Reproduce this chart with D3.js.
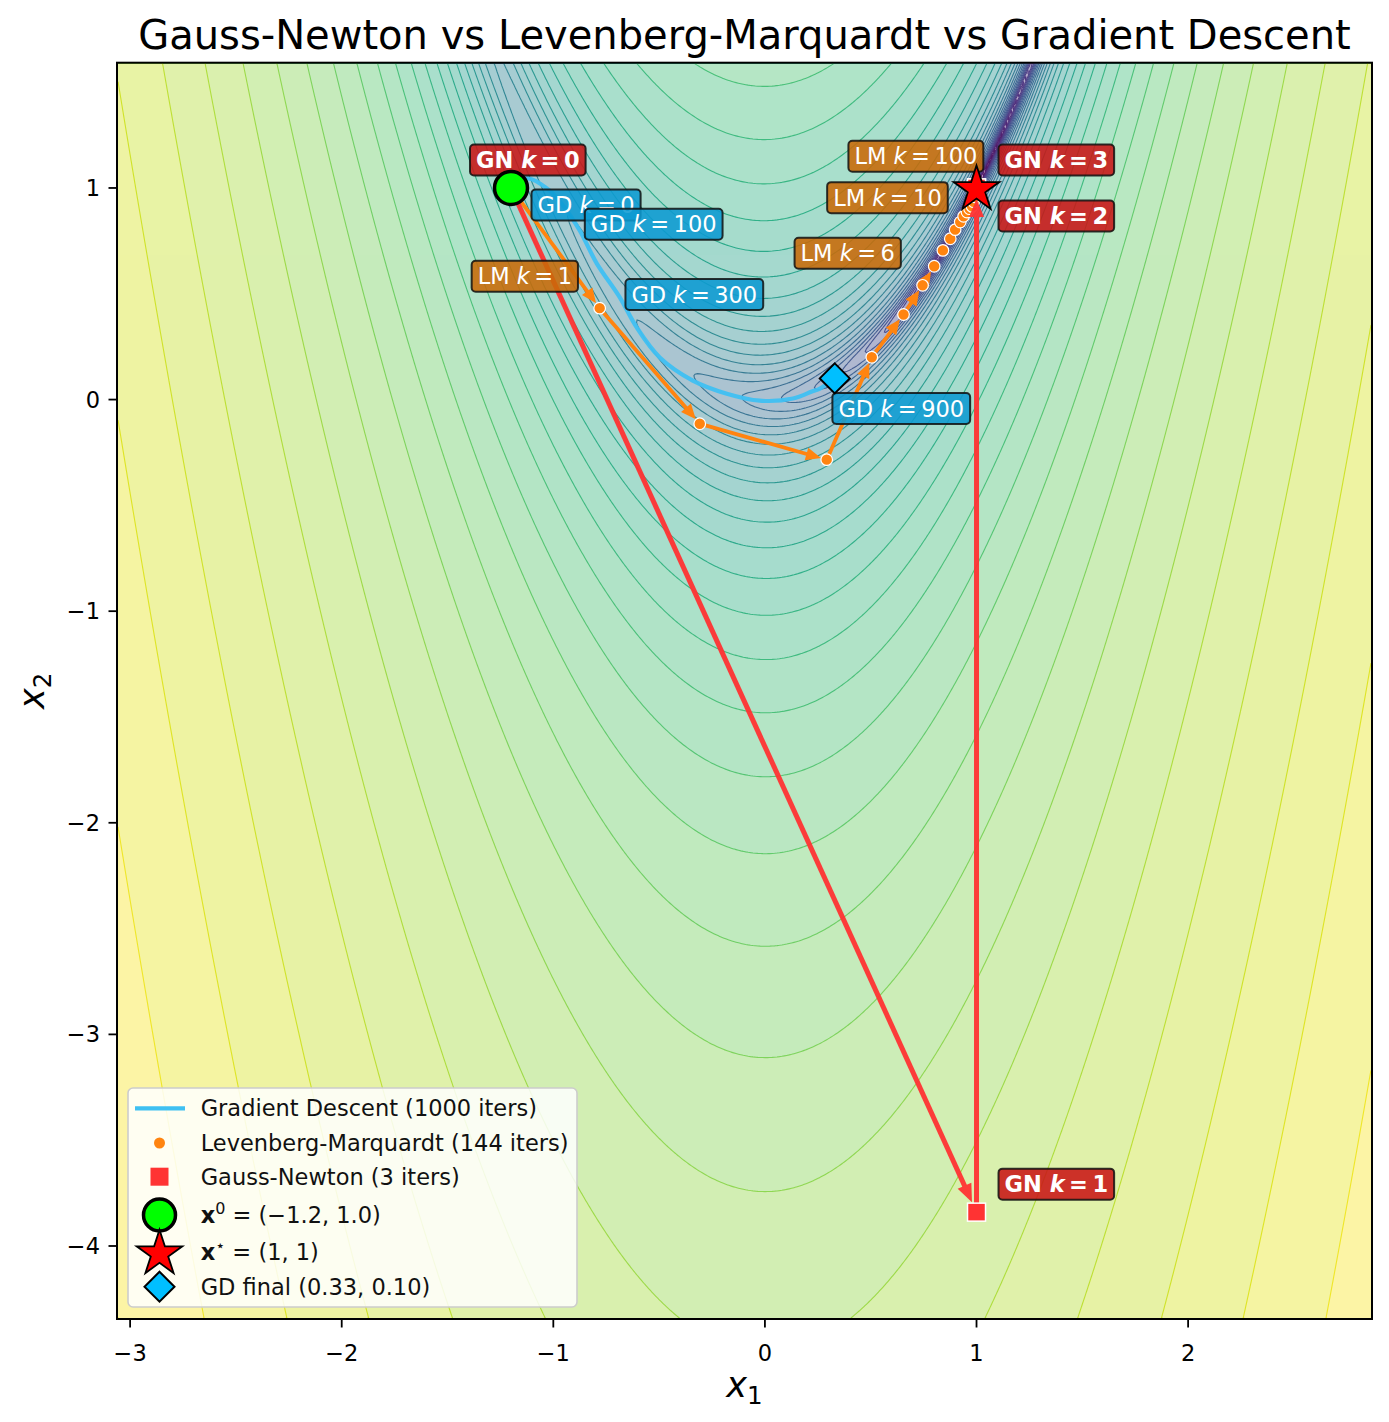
<!DOCTYPE html>
<html lang="en">
<head>
<meta charset="utf-8">
<script src="https://d3js.org/d3.v7.min.js"></script>
<style>
  body { margin: 0; background: #fff; }
  svg { font-family: "DejaVu Sans", sans-serif; }
</style>
</head>
<body>
<script>
// ---- data ----
const startPoint = [-1.2, 1.0];
const optimum = [1.0, 1.0];
const gdFinal = [0.33, 0.10];

// gradient descent trajectory (sampled along the drawn curve)
const gdX = [-1.2, -1.125, -1.02, -0.948, -0.876, -0.795, -0.686, -0.606, -0.497, -0.341, -0.180, -0.024, 0.133, 0.222, 0.260, 0.33];
const gdY = [1.0, 1.046, 0.99, 0.909, 0.80, 0.644, 0.483, 0.341, 0.199, 0.090, 0.028, -0.005, 0.005, 0.038, 0.052, 0.10];
const gdLabelK = [0, 100, 300, 900];
const gdLabelX = [-1.2, -0.948, -0.756, 0.222];
const gdLabelY = [1.0, 0.909, 0.577, 0.038];

// Levenberg-Marquardt iterates
const lmK = [0, 1, 2, 3, 4, 5, 6, 7, 8, 9, 10, 11, 12, 13, 14, 15, 16, 18, 22, 100, 144];
const lmX = [-1.2, -0.781, -0.308, 0.292, 0.505, 0.655, 0.745, 0.800, 0.841, 0.876, 0.899, 0.923, 0.939, 0.955, 0.967, 0.979, 0.986, 0.992, 0.997, 0.9995, 1.0];
const lmY = [1.0, 0.432, -0.114, -0.284, 0.200, 0.402, 0.540, 0.630, 0.705, 0.760, 0.803, 0.839, 0.866, 0.886, 0.902, 0.913, 0.935, 0.958, 0.98, 0.999, 1.0];
const lmLabelK = [1, 6, 10, 100];

// Gauss-Newton iterates
const gnK = [0, 1, 2, 3];
const gnX = [-1.2, 1.0, 1.0, 1.0];
const gnY = [1.0, -3.84, 1.0, 1.0];

const xTicks = [-3, -2, -1, 0, 1, 2];
const yTicks = [-4, -3, -2, -1, 0, 1];

const titleText = "Gauss-Newton vs Levenberg-Marquardt vs Gradient Descent";
const legendNames = ["Gradient Descent (1000 iters)", "Levenberg-Marquardt (144 iters)", "Gauss-Newton (3 iters)"];

// ---- layout ----
const W = 1389, H = 1422;
const plot = { left: 117, right: 1372, top: 62.7, bottom: 1319 };
const x = d3.scaleLinear().domain([-3.062, 2.869]).range([plot.left, plot.right]);
const y = d3.scaleLinear().domain([-4.345, 1.592]).range([plot.bottom, plot.top]);

const gdColor = "#3fc0f2", lmColor = "#ff8410", gnColor = "#ff3333";
const fs = 22.5;

const svg = d3.select("body").append("svg").attr("width", W).attr("height", H);
svg.append("defs").append("clipPath").attr("id", "clip")
  .append("rect").attr("x", plot.left).attr("y", plot.top)
  .attr("width", plot.right - plot.left).attr("height", plot.bottom - plot.top);

const area = svg.append("g").attr("clip-path", "url(#clip)");

// ---- Rosenbrock contours ----
const rosen = (a, b) => (1 - a) ** 2 + 100 * (b - a * a) ** 2;
const nx = 520, ny = 520;
const grid = new Float64Array(nx * ny);
for (let j = 0; j < ny; j++) {
  const yv = y.invert(plot.top + (j + 0.5) * (plot.bottom - plot.top) / ny);
  for (let i = 0; i < nx; i++) {
    const xv = x.invert(plot.left + (i + 0.5) * (plot.right - plot.left) / nx);
    grid[j * nx + i] = Math.log10(Math.max(rosen(xv, yv), 1e-6));
  }
}
const logMax = d3.max(grid);
const nLevels = 40;
const levels = d3.range(nLevels).map(i => -2 + i * (logMax + 2) / (nLevels - 1));
const contours = d3.contours().size([nx, ny]).thresholds(levels)(grid);

const toPlot = d3.geoTransform({
  point: function (px, py) {
    this.stream.point(plot.left + px * (plot.right - plot.left) / nx,
                      plot.top + py * (plot.bottom - plot.top) / ny);
  }
});
const path = d3.geoPath(toPlot);

area.append("g").attr("opacity", 0.4)
  .selectAll("path").data(contours).join("path")
  .attr("d", path)
  .attr("fill", (d, i) => d3.interpolateViridis(Math.min(1, (i + 0.56) / (nLevels - 1))));

area.append("g").attr("fill", "none").attr("stroke-width", 1.1).attr("opacity", 0.9)
  .selectAll("path").data(contours).join("path")
  .attr("d", path)
  .attr("stroke", (d, i) => d3.interpolateViridis(i / (nLevels - 1)));

// ---- helpers ----
function arrow(g, p0, p1, color, width, headLen, headW, shrinkA, shrinkB, opacity) {
  const dx = p1[0] - p0[0], dy = p1[1] - p0[1];
  const L = Math.hypot(dx, dy);
  if (L < shrinkA + shrinkB + headLen * 0.6) return;
  const ux = dx / L, uy = dy / L;
  const sx = p0[0] + ux * shrinkA, sy = p0[1] + uy * shrinkA;
  const tx = p1[0] - ux * shrinkB, ty = p1[1] - uy * shrinkB;
  const bx = tx - ux * headLen, by = ty - uy * headLen;
  const a = g.append("g").attr("opacity", opacity);
  a.append("line").attr("x1", sx).attr("y1", sy).attr("x2", bx + ux * 2).attr("y2", by + uy * 2)
    .attr("stroke", color).attr("stroke-width", width);
  a.append("path")
    .attr("d", `M${tx},${ty}L${bx - uy * headW / 2},${by + ux * headW / 2}L${bx + uy * headW / 2},${by - ux * headW / 2}Z`)
    .attr("fill", color);
}

function starPath(cx, cy, R) {
  const r = R * 0.381966;
  let d = "";
  for (let i = 0; i < 10; i++) {
    const rad = i % 2 === 0 ? R : r;
    const ang = -Math.PI / 2 + i * Math.PI / 5;
    d += (i ? "L" : "M") + (cx + rad * Math.cos(ang)) + "," + (cy + rad * Math.sin(ang));
  }
  return d + "Z";
}

function diamondPath(cx, cy, h) {
  return `M${cx},${cy - h}L${cx + h},${cy}L${cx},${cy + h}L${cx - h},${cy}Z`;
}

// ---- gradient descent path ----
const gdPts = gdX.map((v, i) => [x(v), y(gdY[i])]);
area.append("path")
  .attr("d", d3.line().curve(d3.curveCatmullRom)(gdPts))
  .attr("fill", "none").attr("stroke", gdColor).attr("stroke-width", 4.2).attr("opacity", 0.95);

// ---- LM path ----
const lmPts = lmX.map((v, i) => [x(v), y(lmY[i])]);
const lmG = area.append("g");
for (let i = 0; i < lmPts.length - 1; i++) {
  arrow(lmG, lmPts[i], lmPts[i + 1], lmColor, 3.8, 15, 13, 6, 6, 1);
}
lmG.selectAll("circle").data(lmPts.slice(1)).join("circle")
  .attr("cx", d => d[0]).attr("cy", d => d[1]).attr("r", 5.8)
  .attr("fill", lmColor).attr("stroke", "white").attr("stroke-width", 1.2);

// ---- GN path ----
const gnPts = gnX.map((v, i) => [x(v), y(gnY[i])]);
const gnG = area.append("g");
for (let i = 0; i < gnPts.length - 1; i++) {
  arrow(gnG, gnPts[i], gnPts[i + 1], gnColor, 5, 18, 15, 0, 11, 0.95);
}
gnG.selectAll("rect").data(gnPts.slice(1)).join("rect")
  .attr("x", d => d[0] - 9).attr("y", d => d[1] - 9).attr("width", 18).attr("height", 18)
  .attr("fill", gnColor).attr("stroke", "white").attr("stroke-width", 1.5);

// ---- annotation tags ----
const tagLayer = svg.append("g");
function tag(pt, offX, offY, method, k, fill, bold) {
  const g = tagLayer.append("g");
  const pad = 6;
  const t = g.append("text")
    .attr("x", pt[0] + offX + pad).attr("y", pt[1] + offY).attr("dy", "0.36em")
    .attr("fill", "white").attr("font-size", fs).attr("font-weight", bold ? "bold" : "normal");
  t.append("tspan").text(method + " ");
  t.append("tspan").attr("font-style", "italic").text("k");
  t.append("tspan").text("\u2009=\u2009" + k);
  const w = t.node().getComputedTextLength();
  g.insert("rect", "text")
    .attr("x", pt[0] + offX).attr("y", pt[1] + offY - 15.5)
    .attr("width", w + 2 * pad).attr("height", 31).attr("rx", 4)
    .attr("fill", fill).attr("fill-opacity", 0.88)
    .attr("stroke", "#111").attr("stroke-opacity", 0.85).attr("stroke-width", 2);
}

gnK.forEach((k, i) => {
  const off = k === 0 ? [-41, -28] : k === 2 ? [22, 28] : [22, -28];
  tag(gnPts[i], off[0], off[1], "GN", k, "#c81616", true);
});
lmLabelK.forEach(k => {
  const i = lmK.indexOf(k);
  tag(lmPts[i], -128, -32, "LM", k, "#c86a08", false);
});
gdLabelK.forEach((k, i) => {
  tag([x(gdLabelX[i]), y(gdLabelY[i])], 20.5, 17, "GD", k, "#0d9ad2", false);
});

// ---- special markers ----
const mk = svg.append("g");
mk.append("circle").attr("cx", x(startPoint[0])).attr("cy", y(startPoint[1])).attr("r", 16.5)
  .attr("fill", "#00ff00").attr("stroke", "black").attr("stroke-width", 3.5);
mk.append("path").attr("d", starPath(x(optimum[0]), y(optimum[1]) + 1.5, 24))
  .attr("fill", "#ff0000").attr("stroke", "black").attr("stroke-width", 1.8);
mk.append("path").attr("d", diamondPath(x(gdFinal[0]), y(gdFinal[1]), 15))
  .attr("fill", "#00bfff").attr("stroke", "black").attr("stroke-width", 2);

// ---- frame, ticks ----
svg.append("rect").attr("x", plot.left).attr("y", plot.top)
  .attr("width", plot.right - plot.left).attr("height", plot.bottom - plot.top)
  .attr("fill", "none").attr("stroke", "black").attr("stroke-width", 2);

const axes = svg.append("g").attr("font-size", fs).attr("fill", "black");
xTicks.forEach(t => {
  axes.append("line").attr("x1", x(t)).attr("x2", x(t)).attr("y1", plot.bottom).attr("y2", plot.bottom + 8.5)
    .attr("stroke", "black").attr("stroke-width", 1.8);
  axes.append("text").attr("x", x(t)).attr("y", plot.bottom + 42).attr("text-anchor", "middle")
    .text(t < 0 ? "\u2212" + Math.abs(t) : String(t));
});
yTicks.forEach(t => {
  axes.append("line").attr("y1", y(t)).attr("y2", y(t)).attr("x1", plot.left).attr("x2", plot.left - 8.5)
    .attr("stroke", "black").attr("stroke-width", 1.8);
  axes.append("text").attr("x", plot.left - 17).attr("y", y(t)).attr("dy", "0.36em").attr("text-anchor", "end")
    .text(t < 0 ? "\u2212" + Math.abs(t) : String(t));
});

const xl = svg.append("text").attr("x", (plot.left + plot.right) / 2).attr("y", 1397)
  .attr("text-anchor", "middle").attr("font-size", 35);
xl.append("tspan").attr("font-style", "italic").text("x");
xl.append("tspan").attr("font-size", 24.5).attr("dy", 7).text("1");

const yl = svg.append("text").attr("transform", `translate(44,${(plot.top + plot.bottom) / 2}) rotate(-90)`)
  .attr("text-anchor", "middle").attr("font-size", 35);
yl.append("tspan").attr("font-style", "italic").text("x");
yl.append("tspan").attr("font-size", 24.5).attr("dy", 7).text("2");

svg.append("text").attr("x", (plot.left + plot.right) / 2).attr("y", 49)
  .attr("text-anchor", "middle").attr("font-size", 40).text(titleText);

// ---- legend ----
const lg = svg.append("g");
lg.append("rect").attr("x", 128).attr("y", 1088).attr("width", 449).attr("height", 219).attr("rx", 5)
  .attr("fill", "white").attr("fill-opacity", 0.85).attr("stroke", "#cccccc").attr("stroke-width", 1.6);
const rowY = [1108.3, 1143, 1176.7, 1215, 1251.7, 1286.7];
const symX = 159.5, textX = 200.7;
lg.append("line").attr("x1", 135).attr("x2", 185).attr("y1", rowY[0]).attr("y2", rowY[0])
  .attr("stroke", gdColor).attr("stroke-width", 4.2);
lg.append("circle").attr("cx", symX).attr("cy", rowY[1]).attr("r", 5.5).attr("fill", lmColor);
lg.append("rect").attr("x", symX - 9).attr("y", rowY[2] - 9).attr("width", 18).attr("height", 18).attr("fill", gnColor);
lg.append("circle").attr("cx", symX).attr("cy", rowY[3]).attr("r", 16).attr("fill", "#00ff00")
  .attr("stroke", "black").attr("stroke-width", 3.5);
lg.append("path").attr("d", starPath(symX, rowY[4] + 2, 24)).attr("fill", "#ff0000")
  .attr("stroke", "black").attr("stroke-width", 1.8);
lg.append("path").attr("d", diamondPath(symX, rowY[5], 15)).attr("fill", "#00bfff")
  .attr("stroke", "black").attr("stroke-width", 2);

const lgText = lg.append("g").attr("font-size", fs).attr("fill", "#111");
legendNames.forEach((n, i) => {
  lgText.append("text").attr("x", textX).attr("y", rowY[i]).attr("dy", "0.36em").text(n);
});
const t4 = lgText.append("text").attr("x", textX).attr("y", rowY[3]).attr("dy", "0.36em");
t4.append("tspan").attr("font-weight", "bold").text("x");
t4.append("tspan").attr("font-size", 16).attr("dy", -9).text("0");
t4.append("tspan").attr("dy", 9).text(" = (\u2212" + Math.abs(startPoint[0]).toFixed(1) + ", " + startPoint[1].toFixed(1) + ")");
const t5 = lgText.append("text").attr("x", textX).attr("y", rowY[4]).attr("dy", "0.36em");
t5.append("tspan").attr("font-weight", "bold").text("x");
t5.append("tspan").attr("font-size", 16).attr("dy", -9).text("\u22c6");
t5.append("tspan").attr("dy", 9).text(" = (" + optimum[0] + ", " + optimum[1] + ")");
lgText.append("text").attr("x", textX).attr("y", rowY[5]).attr("dy", "0.36em")
  .text("GD final (" + gdFinal[0].toFixed(2) + ", " + gdFinal[1].toFixed(2) + ")");
</script>
</body>
</html>
